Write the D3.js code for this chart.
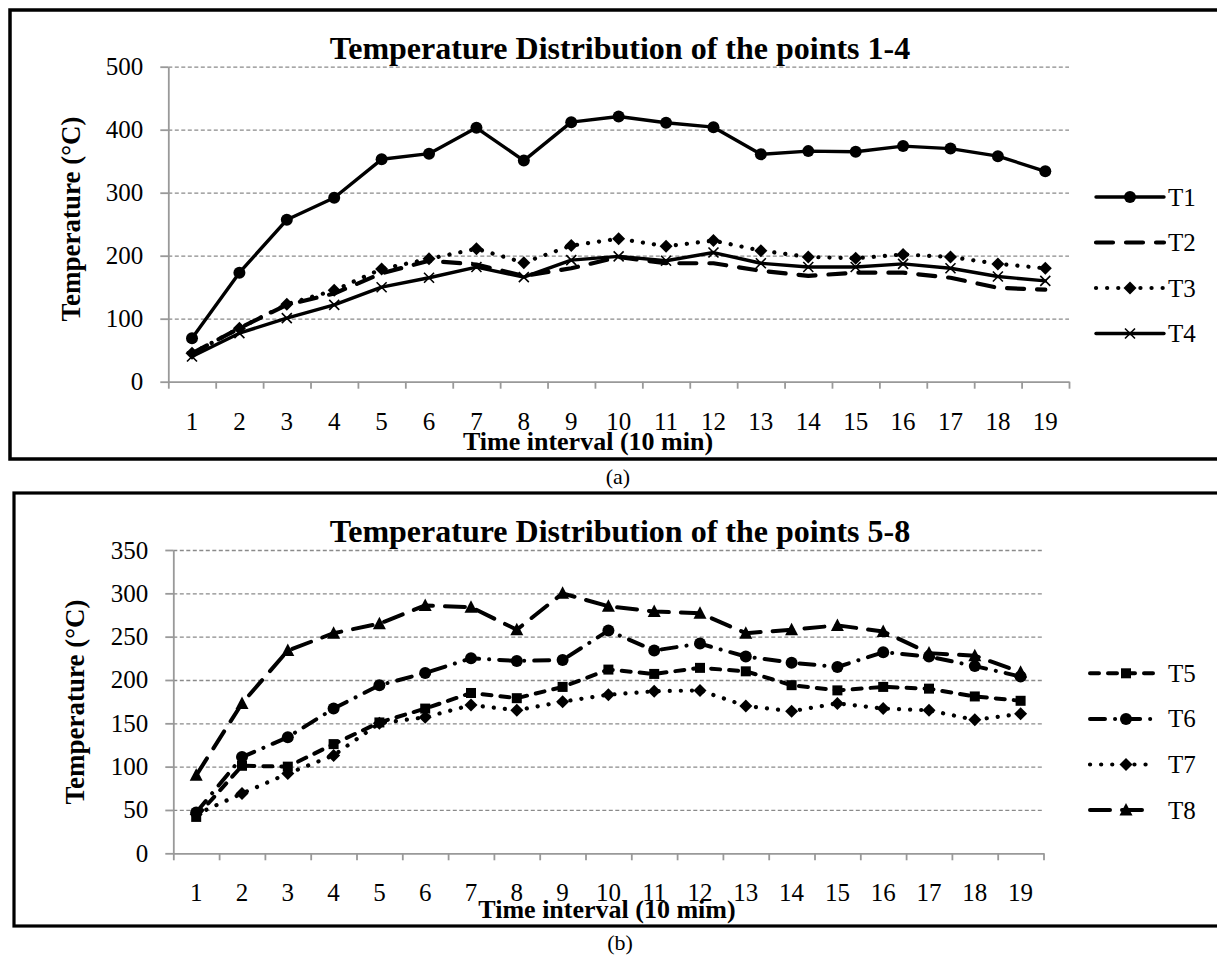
<!DOCTYPE html>
<html lang="en">
<head>
<meta charset="utf-8">
<script src="https://d3js.org/d3.v7.min.js"></script>
<style>
  body { margin: 0; background: #fff; }
  svg text { font-family: "Liberation Serif", "Times New Roman", serif; fill: #000; }
  .axis .domain, .axis line { stroke: #999; stroke-width: 1.8; }
  .axis text { font-size: 25px; }
  .grid line { stroke: #8a8a8a; stroke-width: 1.3; stroke-dasharray: 4 2.5; }
  .title { font-size: 32px; font-weight: bold; }
  .axtitle { font-size: 26px; font-weight: bold; }
  .legend text { font-size: 25px; }
</style>
</head>
<body>
<svg id="chart" width="1217" height="955"></svg>
<script>
// time intervals (10 min)
const intervals = [1, 2, 3, 4, 5, 6, 7, 8, 9, 10, 11, 12, 13, 14, 15, 16, 17, 18, 19];

// points 1-4
const t1 = [69, 173, 257, 292, 353, 362, 403, 351, 412, 421, 411, 404, 361, 366, 365, 374, 370, 358, 334];
const t2 = [45, 85, 122, 140, 172, 192, 186, 168, 180, 198, 188, 188, 176, 168, 173, 173, 165, 149, 146];
const t3 = [45, 85, 123, 145, 179, 195, 211, 189, 216, 227, 215, 224, 208, 198, 196, 202, 198, 187, 180];
const t4 = [40, 77, 101, 122, 150, 165, 182, 166, 193, 199, 192, 205, 188, 182, 182, 187, 180, 167, 160];

// points 5-8
const t5 = [42, 101, 100, 126, 151, 167, 185, 179, 192, 212, 207, 214, 210, 194, 188, 192, 190, 181, 176];
const t6 = [47, 111, 134, 167, 194, 208, 225, 222, 223, 257, 234, 242, 227, 220, 215, 232, 227, 216, 204];
const t7 = [45, 69, 92, 113, 150, 157, 171, 165, 175, 183, 187, 188, 170, 164, 173, 167, 165, 154, 161];
const t8 = [90, 173, 234, 254, 265, 286, 284, 258, 300, 285, 279, 277, 254, 258, 263, 256, 231, 228, 209];

const yTicksA = [0, 100, 200, 300, 400, 500];
const yTicksB = [0, 50, 100, 150, 200, 250, 300, 350];

const serif = '"Liberation Serif", "Times New Roman", serif';
const svg = d3.select('#chart');

// marker shapes
function marker(sel, kind) {
  if (kind === 'circle') sel.append('circle').attr('r', 6).attr('fill', '#000');
  if (kind === 'square') sel.append('rect').attr('x', -5).attr('y', -5).attr('width', 10).attr('height', 10).attr('fill', '#000');
  if (kind === 'diamond') sel.append('path').attr('d', 'M0,-6.5L6.5,0L0,6.5L-6.5,0Z').attr('fill', '#000');
  if (kind === 'triangle') sel.append('path').attr('d', 'M0,-7L6.5,5.5L-6.5,5.5Z').attr('fill', '#000');
  if (kind === 'x') sel.append('path').attr('d', 'M-5,-5L5,5M-5,5L5,-5').attr('stroke', '#000').attr('stroke-width', 1.6);
}

function drawPanel(o) {
  const g = svg.append('g');
  const x = d3.scaleBand().domain(intervals).range([o.left, o.right]);
  const xEdge = d3.scaleLinear().domain([0, intervals.length]).range([o.left, o.right]);
  const y = d3.scaleLinear().domain([0, o.max]).range([o.bottom, o.top]);
  const cx = d => x(d) + x.bandwidth() / 2;

  // frame
  g.append('rect')
    .attr('x', o.frame[0]).attr('y', o.frame[1])
    .attr('width', o.frame[2]).attr('height', o.frame[3])
    .attr('fill', 'none').attr('stroke', '#000').attr('stroke-width', o.frameW);

  // gridlines
  g.append('g').attr('class', 'grid')
    .attr('transform', `translate(${o.left},0)`)
    .call(d3.axisLeft(y).tickValues(o.ticks.slice(1)).tickSize(-(o.right - o.left)).tickFormat(''))
    .call(s => s.select('.domain').remove());

  // y axis
  g.append('g').attr('class', 'axis')
    .attr('transform', `translate(${o.left},0)`)
    .call(d3.axisLeft(y).tickValues(o.ticks).tickSize(8).tickSizeOuter(0).tickPadding(17));

  // x axis with ticks between categories
  g.append('g').attr('class', 'axis')
    .attr('transform', `translate(0,${o.bottom})`)
    .call(d3.axisBottom(xEdge).tickValues(d3.range(intervals.length + 1)).tickSize(7).tickSizeOuter(0).tickFormat(''));

  g.append('g').attr('class', 'axis')
    .attr('transform', `translate(0,${o.bottom})`)
    .call(d3.axisBottom(x).tickSize(0))
    .call(s => s.select('.domain').remove())
    .selectAll('text').attr('y', 48).attr('dy', null);

  // titles
  g.append('text').attr('class', 'title')
    .attr('x', 620).attr('y', o.titleY).attr('text-anchor', 'middle')
    .text(o.title);
  g.append('text').attr('class', 'axtitle')
    .attr('x', o.xTitle[0]).attr('y', o.xTitle[1]).attr('text-anchor', 'middle')
    .text(o.xLabel);
  g.append('text').attr('class', 'axtitle')
    .attr('transform', `translate(${o.yTitle[0]},${o.yTitle[1]}) rotate(-90)`)
    .attr('text-anchor', 'middle').style('font-size', '27px')
    .text('Temperature (°C)');

  // series
  const line = d3.line().x((d, i) => cx(intervals[i])).y(d => y(d));
  o.series.forEach(s => {
    g.append('path')
      .attr('d', line(s.values))
      .attr('fill', 'none').attr('stroke', '#000')
      .attr('stroke-width', s.width)
      .attr('stroke-linecap', 'round').attr('stroke-linejoin', 'round')
      .attr('stroke-dasharray', s.dash);
    if (s.marker) {
      g.append('g').selectAll('g').data(s.values).join('g')
        .attr('transform', (d, i) => `translate(${cx(intervals[i])},${y(d)})`)
        .each(function () { marker(d3.select(this), s.marker); });
    }
  });

  // legend
  const lg = g.append('g').attr('class', 'legend');
  o.series.forEach((s, i) => {
    const ly = o.legend.y + i * o.legend.step;
    lg.append('path')
      .attr('d', `M${o.legend.x0},${ly}H${o.legend.x1}`)
      .attr('stroke', '#000').attr('stroke-width', s.width)
      .attr('stroke-linecap', 'round').attr('stroke-dasharray', s.dash);
    if (s.marker) {
      const m = lg.append('g').attr('transform', `translate(${o.legend.mx},${ly})`);
      marker(m, s.marker);
    }
    lg.append('text').attr('x', o.legend.tx).attr('y', ly + 8.5).text(s.name);
  });
}

drawPanel({
  left: 168.3, right: 1069, top: 66.7, bottom: 381.7, max: 500, ticks: yTicksA,
  frame: [10, 10, 1220, 449], frameW: 3.5,
  title: 'Temperature Distribution of the points 1-4', titleY: 59,
  xLabel: 'Time interval (10 min)', xTitle: [588, 450], yTitle: [80, 219],
  legend: { x0: 1096, x1: 1164, mx: 1130, tx: 1168, y: 197, step: 45.5 },
  series: [
    { name: 'T1', values: t1, width: 3.4, dash: null, marker: 'circle' },
    { name: 'T2', values: t2, width: 4.2, dash: '17 13', marker: null },
    { name: 'T3', values: t3, width: 4.2, dash: '0.1 11', marker: 'diamond' },
    { name: 'T4', values: t4, width: 3.4, dash: null, marker: 'x' }
  ]
});

drawPanel({
  left: 173.3, right: 1043.5, top: 550, bottom: 853.3, max: 350, ticks: yTicksB,
  frame: [14, 493, 1220, 433], frameW: 3.2,
  title: 'Temperature Distribution of the points 5-8', titleY: 542,
  xLabel: 'Time interval (10 mim)', xTitle: [607, 918], yTitle: [84, 702],
  legend: { x0: 1090, x1: 1153, mx: 1126, tx: 1168, y: 673.3, step: 45.6 },
  series: [
    { name: 'T5', values: t5, width: 4, dash: '9 9', marker: 'square' },
    { name: 'T6', values: t6, width: 4, dash: '15 10 0.1 10', marker: 'circle' },
    { name: 'T7', values: t7, width: 4.2, dash: '0.1 11', marker: 'diamond' },
    { name: 'T8', values: t8, width: 4, dash: '20 12', marker: 'triangle' }
  ]
});

// panel captions
svg.append('text').attr('x', 618).attr('y', 484).attr('text-anchor', 'middle').style('font-size', '22px').text('(a)');
svg.append('text').attr('x', 620).attr('y', 950).attr('text-anchor', 'middle').style('font-size', '22px').text('(b)');

// make sure every label uses the serif face (axis groups set their own family)
svg.selectAll('text').style('font-family', serif);
</script>
</body>
</html>
